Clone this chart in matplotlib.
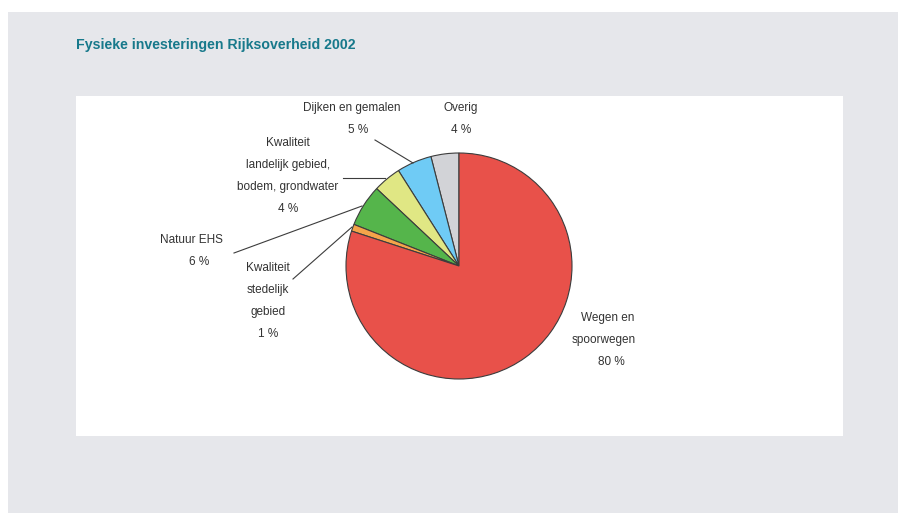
import matplotlib.pyplot as plt
from matplotlib.patches import Rectangle
from matplotlib import font_manager

# investments per category, percent of total (drawn counterclockwise from the top)
categories = ['Overig', 'Dijken en gemalen', 'Kwaliteit landelijk gebied, bodem, grondwater',
              'Natuur EHS', 'Kwaliteit stedelijk gebied', 'Wegen en spoorwegen']
shares = [4, 5, 4, 6, 1, 80]
colors = ['#D2D3D7', '#6FCBF5', '#E0E784', '#55B54B', '#F5A44A', '#E8514A']

W, H = 899, 513

names = {f.name for f in font_manager.fontManager.ttflist}
font = 'Liberation Sans Narrow' if 'Liberation Sans Narrow' in names else 'Liberation Sans'
plt.rcParams['font.family'] = [font, 'DejaVu Sans']

fig = plt.figure(figsize=(W / 100, H / 100), dpi=100)
fig.patch.set_facecolor('white')
ax = fig.add_axes([0, 0, 1, 1])


def Y(py):
    # pixel rows run top-down
    return H - py


# grey page and white chart panel
ax.add_patch(Rectangle((8, Y(513)), 890, 501, facecolor='#E6E7EB', edgecolor='none', zorder=0))
ax.add_patch(Rectangle((76, Y(436)), 767, 340, facecolor='white', edgecolor='none', zorder=1))

ax.text(76, Y(45), 'Fysieke investeringen Rijksoverheid 2002', fontsize=10.2, fontweight='bold',
        color='#17798B', ha='left', va='center', zorder=3)

ax.pie(shares, colors=colors, startangle=90, counterclock=True, center=(459, Y(266)), radius=113,
       wedgeprops=dict(edgecolor='#3C3C3C', linewidth=0.8, zorder=2), frame=True)
ax.set_xlim(0, W)
ax.set_ylim(0, H)
ax.set_aspect('equal')
ax.axis('off')

lab = dict(fontsize=8.5, color='#333333', ha='center', va='center', zorder=3)


def block(x, y0, lines):
    for i, s in enumerate(lines):
        ax.text(x, Y(y0 + 22 * i), s, **lab)


block(352, 108, ['Dijken en gemalen'])
ax.text(358, Y(130), '5 %', **lab)
block(461, 108, ['Overig', '4 %'])
block(288, 143, ['Kwaliteit', 'landelijk gebied,', 'bodem, grondwater', '4 %'])
ax.text(191, Y(240), 'Natuur EHS', **lab)
ax.text(199, Y(262), '6 %', **lab)
block(268, 268, ['Kwaliteit', 'stedelijk', 'gebied', '1 %'])
ax.text(608, Y(318), 'Wegen en', **lab)
ax.text(604, Y(340), 'spoorwegen', **lab)
ax.text(611, Y(362), '80 %', **lab)

# leader lines
ln = dict(color='#3C3C3C', linewidth=0.8, zorder=3)
ax.plot([375, 413], [Y(140), Y(163)], **ln)
ax.plot([343, 385], [Y(178), Y(178)], **ln)
ax.plot([234, 362], [Y(253), Y(206)], **ln)
ax.plot([293, 352], [Y(279), Y(227)], **ln)

fig.savefig('out.png', dpi=100)
